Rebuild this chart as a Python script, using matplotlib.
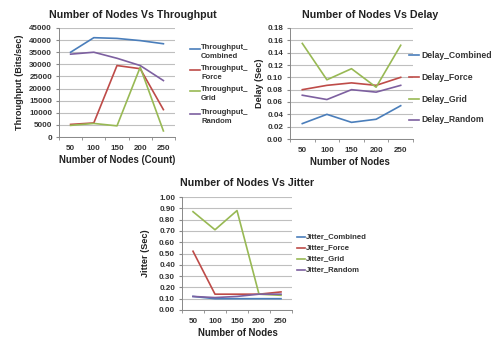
import numpy as np
import matplotlib
matplotlib.use("Agg")
import matplotlib.pyplot as plt
from matplotlib.lines import Line2D

plt.rcParams["font.family"] = ["Liberation Sans", "DejaVu Sans"]

# ---------------------------------------------------------------------------
# Data
# ---------------------------------------------------------------------------
nodes = ["50", "100", "150", "200", "250"]
series_names = ["Combined", "Force", "Grid", "Random"]

throughput_combined = [35000, 41000, 40700, 39800, 38500]
throughput_force = [5200, 5800, 29500, 28200, 11300]
throughput_grid = [4800, 5600, 4600, 28800, 2500]
throughput_random = [34200, 35000, 32500, 29500, 23300]

delay_combined = [0.025, 0.040, 0.027, 0.032, 0.054]
delay_force = [0.080, 0.087, 0.091, 0.087, 0.100]
delay_grid = [0.155, 0.096, 0.114, 0.084, 0.152]
delay_random = [0.071, 0.064, 0.080, 0.076, 0.087]

jitter_combined = [0.12, 0.10, 0.10, 0.10, 0.10]
jitter_force = [0.52, 0.14, 0.14, 0.14, 0.16]
jitter_grid = [0.87, 0.71, 0.88, 0.14, 0.13]
jitter_random = [0.12, 0.11, 0.12, 0.14, 0.14]

COLORS = ["#4a7ebb", "#be4b48", "#98b954", "#7d60a0"]
W, H = 500, 351


def px_axes(fig, left, top, right, bottom):
    return fig.add_axes([left / W, 1 - bottom / H, (right - left) / W, (bottom - top) / H])


def style_axes(ax, ymax, ystep, fmt):
    x = np.arange(len(nodes))
    ticks = np.arange(0, ymax + ystep / 2, ystep)
    ax.set_xlim(-0.5, len(nodes) - 0.5)
    ax.set_ylim(0, ymax)
    ax.set_yticks(ticks)
    ax.set_yticklabels([fmt(v) for v in ticks])
    ax.set_xticks(x)
    ax.set_xticklabels(nodes)
    ax.set_xticks(np.arange(-0.5, len(nodes)), minor=True)
    ax.tick_params(axis="x", which="major", length=0, pad=6)
    ax.tick_params(axis="x", which="minor", length=2, color="#888888")
    ax.tick_params(axis="y", length=2, color="#888888", pad=3)
    ax.tick_params(labelsize=5.8, labelcolor="#333333")
    for lab in ax.get_xticklabels() + ax.get_yticklabels():
        lab.set_fontweight("bold")
    ax.grid(axis="y", color="#bfbfbf", linewidth=0.8)
    ax.set_axisbelow(True)
    for s in ["top", "right"]:
        ax.spines[s].set_visible(False)
    for s in ["left", "bottom"]:
        ax.spines[s].set_color("#888888")
        ax.spines[s].set_linewidth(0.7)


def draw_chart(fig, box, series, title, ylabel, xlabel, ymax, ystep, fmt,
               title_xy, ylabel_xy, xlabel_xy):
    ax = px_axes(fig, *box)
    x = np.arange(len(nodes))
    for vals, c in zip(series, COLORS):
        ax.plot(x, vals, color=c, linewidth=1.2)
    style_axes(ax, ymax, ystep, fmt)
    fig.text(title_xy[0] / W, 1 - title_xy[1] / H, title, ha="center", va="center",
             fontsize=7.7, fontweight="bold", color="#222222")
    fig.text(ylabel_xy[0] / W, 1 - ylabel_xy[1] / H, ylabel, ha="center", va="center",
             rotation=90, fontsize=6.6, fontweight="bold", color="#222222")
    fig.text(xlabel_xy[0] / W, 1 - xlabel_xy[1] / H, xlabel, ha="center", va="center",
             fontsize=6.9, fontweight="bold", color="#222222")
    return ax


fig = plt.figure(figsize=(W / 100, H / 100), dpi=100)
fig.patch.set_facecolor("white")

draw_chart(fig, (59, 28, 175, 137),
           [throughput_combined, throughput_force, throughput_grid, throughput_random],
           "Number of Nodes Vs Throughput", "Throughput (Bits/sec)", "Number of Nodes (Count)",
           45000, 5000, lambda v: f"{int(v)}",
           (133, 15), (20, 82), (117, 160))
for lab, c, y in zip(series_names, COLORS, [49, 70, 91, 114]):
    fig.add_artist(Line2D([190 / W, 200 / W], [1 - y / H, 1 - y / H], color=c, linewidth=1.2))
    fig.text(201 / W, 1 - (y - 5) / H, "Throughput_\n" + lab, ha="left", va="top",
             fontsize=5.5, fontweight="bold", color="#333333", linespacing=1.4)

draw_chart(fig, (290, 28, 413, 139),
           [delay_combined, delay_force, delay_grid, delay_random],
           "Number of Nodes Vs Delay", "Delay (Sec)", "Number of Nodes",
           0.18, 0.02, lambda v: f"{v:.2f}",
           (370, 15), (260, 83), (350, 162))
for lab, c, y in zip(series_names, COLORS, [55, 77, 99, 120]):
    fig.add_artist(Line2D([409 / W, 419 / W], [1 - y / H, 1 - y / H], color=c, linewidth=1.2))
    fig.text(421 / W, 1 - y / H, "Delay_" + lab, ha="left", va="center",
             fontsize=6.2, fontweight="bold", color="#333333")

draw_chart(fig, (182, 197, 292, 310),
           [jitter_combined, jitter_force, jitter_grid, jitter_random],
           "Number of Nodes Vs Jitter", "Jitter (Sec)", "Number of Nodes",
           1.0, 0.1, lambda v: f"{v:.2f}",
           (247, 183), (145, 253), (238, 333))
for lab, c, y in zip(series_names, COLORS, [237, 248, 259, 270]):
    fig.add_artist(Line2D([297 / W, 305 / W], [1 - y / H, 1 - y / H], color=c, linewidth=1.2))
    fig.text(306 / W, 1 - y / H, "Jitter_" + lab, ha="left", va="center",
             fontsize=5.6, fontweight="bold", color="#333333")

fig.savefig("out.png", dpi=100, facecolor="white")
